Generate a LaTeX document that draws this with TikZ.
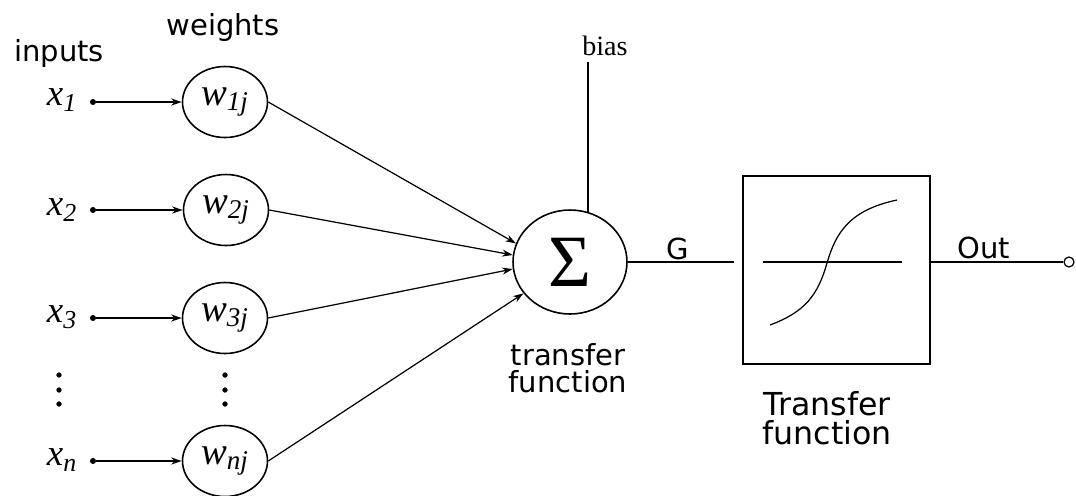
\documentclass[tikz,border=0pt]{standalone}
\usepackage{fontspec}
\setmainfont{Liberation Serif}
\newfontfamily\sanslabel{DejaVu Sans}
\usetikzlibrary{arrows.meta,shapes.geometric}

\begin{document}
\begin{tikzpicture}[x=0.02cm, y=-0.02cm,
		wnode/.style={draw, ellipse, line width=0.9pt, minimum width=1.7cm, minimum height=1.42cm, inner sep=0pt, font=\fontsize{22}{22}\selectfont\itshape},
		xlabel/.style={font=\fontsize{21}{21}\selectfont\itshape},
		sanslbl/.style={font=\sanslabel\fontsize{16.5}{15.5}\selectfont, align=center},
		indot/.style={circle, fill=black, inner sep=0pt, minimum size=0.12cm},
		feed/.style={-{Stealth[length=6pt, width=4pt]}, line width=1pt},
		link/.style={-{Stealth[length=6pt, width=4pt]}, line width=0.7pt}]
			%%%%% START %%%%%
			
			\useasboundingbox (0, 0) rectangle (1076, 495);
			
			\node[sanslbl] (inputs) at (59, 53) {inputs};
			\node[sanslbl] (weights) at (223, 27) {weights};
			
			\node[xlabel] (x1) at (62, 100) {x\textsubscript{1}};
			\node[xlabel] (x2) at (62, 210) {x\textsubscript{2}};
			\node[xlabel] (x3) at (62, 317) {x\textsubscript{3}};
			\node[xlabel] (xn) at (62, 460) {x\textsubscript{n}};
			
			\node[indot] (d1) at (93, 102) {};
			\node[indot] (d2) at (93, 210) {};
			\node[indot] (d3) at (93, 318) {};
			\node[indot] (dn) at (93, 461) {};
			
			\node[wnode] (w1) at (225, 102) {w\textsubscript{1j}};
			\node[wnode] (w2) at (226, 210) {w\textsubscript{2j}};
			\node[wnode] (w3) at (225, 318) {w\textsubscript{3j}};
			\node[wnode] (wn) at (225, 461) {w\textsubscript{nj}};
			
			\draw[feed] (d1) -- (w1);
			\draw[feed] (d2) -- (w2);
			\draw[feed] (d3) -- (w3);
			\draw[feed] (dn) -- (wn);
			
			\draw[fill=black] (59, 375) circle (0.045cm);
			\draw[fill=black] (59, 390) circle (0.045cm);
			\draw[fill=black] (59, 404) circle (0.045cm);
			\draw[fill=black] (225, 375) circle (0.045cm);
			\draw[fill=black] (225, 390) circle (0.045cm);
			\draw[fill=black] (225, 404) circle (0.045cm);
			
			\node[draw, ellipse, line width=0.9pt, minimum width=2.28cm, minimum height=2.08cm, inner sep=0pt, font=\fontsize{42}{42}\selectfont] (sigma) at (570, 262) {Σ};
			
			\draw[link] (w1.east) -- (sigma.161);
			\draw[link] (w2.east) -- (sigma.173);
			\draw[link] (w3.east) -- (sigma.187);
			\draw[link] (wn.east) -- (sigma.214);
			
			\node[font=\fontsize{16}{16}\selectfont] (bias) at (605, 46) {bias};
			\draw[line width=1.4pt] (sigma.70) -- (sigma.70 |- bias.south);
			
			\node[sanslbl] (sumlbl) at (568, 368) {transfer\\function};
			
			\node[draw, line width=0.7pt, minimum width=3.74cm, minimum height=3.76cm] (tf) at (836.5, 270) {};
			\draw[line width=0.7pt] (763, 262) -- (902, 262);
			\draw[line width=0.7pt] (770, 325) .. controls (805, 312) and (818, 295) .. (827, 263) .. controls (836, 232) and (850, 210) .. (897, 200);
			\node[sanslbl, font=\sanslabel\fontsize{18}{16.5}\selectfont] (tflbl) at (827, 418) {Transfer\\function};
			
			\node[sanslbl] (g) at (678, 249) {G};
			\draw[line width=0.7pt, shorten >=5] (sigma.east) -- (sigma.east -| tf.west);
			
			\node[draw, circle, line width=0.7pt, inner sep=0pt, minimum size=0.2cm] (out) at (1069, 262) {};
			\node[sanslbl] (outlbl) at (984, 248) {Out};
			\draw[line width=0.7pt] (tf.east |- out) -- (out);
			
			%%%%% END %%%%%
		\end{tikzpicture}
\end{document}
